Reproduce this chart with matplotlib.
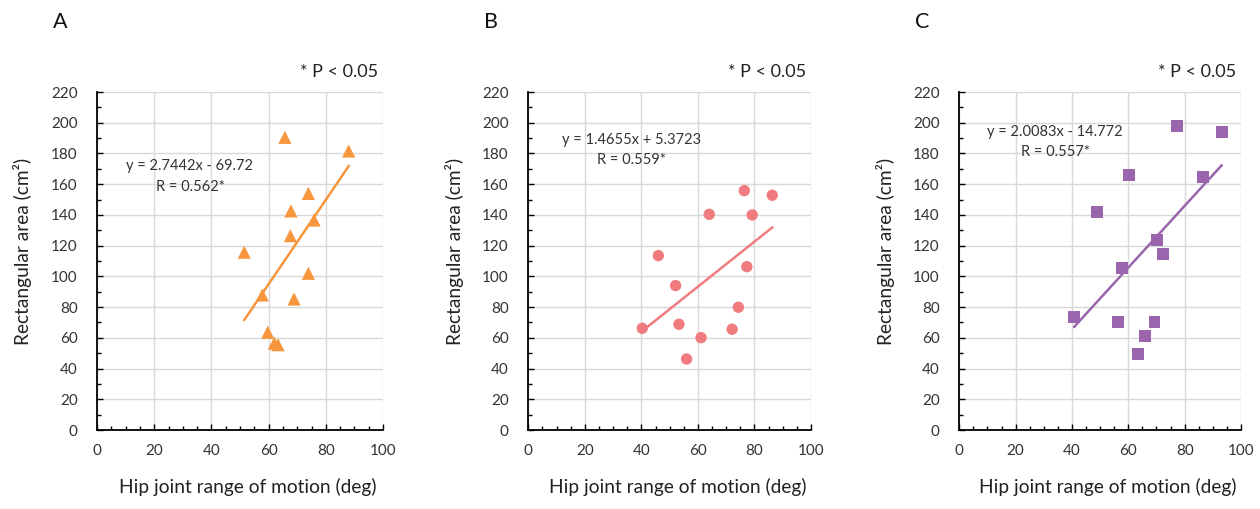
import matplotlib
matplotlib.use("Agg")
import matplotlib.pyplot as plt
import numpy as np
from matplotlib.ticker import MultipleLocator

plt.rcParams['font.family'] = ['Lato', 'DejaVu Sans']

# ---- data ----
panel_letters = ["A", "B", "C"]

a_x = [65.7, 88.0, 73.9, 67.8, 75.9, 67.6, 51.5, 73.9, 57.8, 68.9, 59.7, 62.0, 63.3]
a_y = [190.5, 181.6, 154.0, 142.6, 136.7, 126.5, 115.7, 102.0, 87.9, 85.3, 63.6, 56.5, 55.5]

b_x = [76.4, 86.3, 64.0, 79.2, 46.0, 77.3, 52.1, 74.3, 40.3, 53.3, 61.1, 72.1, 56.0]
b_y = [155.8, 152.8, 140.4, 140.0, 113.5, 106.3, 94.0, 79.9, 66.2, 68.8, 60.1, 65.6, 46.2]

c_x = [77.3, 93.1, 60.2, 86.4, 49.0, 70.2, 72.2, 57.9, 40.8, 56.2, 69.3, 66.0, 63.3]
c_y = [197.9, 193.8, 166.2, 164.5, 141.7, 123.5, 114.4, 105.3, 73.8, 70.1, 70.1, 61.4, 49.3]

slopes = [2.7442, 1.4655, 2.0083]
intercepts = [-69.72, 5.3723, -14.772]
eq_texts = ["y = 2.7442x - 69.72", "y = 1.4655x + 5.3723", "y = 2.0083x - 14.772"]
r_texts = ["R = 0.562*", "R = 0.559*", "R = 0.557*"]
sig_text = "* P < 0.05"
x_label = "Hip joint range of motion (deg)"
y_label = "Rectangular area (cm²)"

xs = [a_x, b_x, c_x]
ys = [a_y, b_y, c_y]
colors = ['#F7963C', '#F07C80', '#9A65AC']
markers = ['^', 'o', 's']
msizes = [9.5, 8.2, 8.6]
eq_pos = [(32.5, 172, 158), (36.6, 189, 176), (34.0, 194, 181)]

W, H = 1260, 509
fig = plt.figure(figsize=(W / 100, H / 100), dpi=100)

lefts = [97, 528.3, 959.3]
rights = [383, 811, 1241]
top_px, bot_px = 92, 430

for i in range(3):
    wpx = rights[i] - lefts[i]
    hpx = bot_px - top_px
    ax = fig.add_axes([lefts[i] / W, (H - bot_px) / H, wpx / W, hpx / H])
    ax.set_xlim(0, 100)
    ax.set_ylim(0, 220)
    ax.xaxis.set_major_locator(MultipleLocator(20))
    ax.yaxis.set_major_locator(MultipleLocator(20))
    ax.xaxis.set_minor_locator(MultipleLocator(5))
    ax.yaxis.set_minor_locator(MultipleLocator(10))
    ax.grid(True, which='major', color='#D9D9D9', linewidth=1.0, zorder=0)
    ax.set_axisbelow(True)
    for s in ['top', 'right']:
        ax.spines[s].set_visible(False)
    for s in ['left', 'bottom']:
        ax.spines[s].set_color('black')
        ax.spines[s].set_linewidth(1.3)
    ax.tick_params(which='both', direction='in', color='black', width=1.0)
    ax.tick_params(which='major', length=4, labelsize=11, labelcolor='#333333')
    ax.tick_params(which='minor', length=3)
    ax.tick_params(axis='x', which='major', pad=10)
    ax.tick_params(axis='y', which='major', pad=14)

    ax.scatter(xs[i], ys[i], marker=markers[i], s=msizes[i] ** 2,
               color=colors[i], edgecolors='none', zorder=3)
    x0, x1 = min(xs[i]), max(xs[i])
    lx = np.array([x0, x1])
    ax.plot(lx, slopes[i] * lx + intercepts[i], color=colors[i],
            linewidth=1.8, zorder=4)

    ex, ey1, ey2 = eq_pos[i]
    ax.text(ex, ey1, eq_texts[i], ha='center', va='center', fontsize=10.5,
            color='#333333')
    ax.text(ex, ey2, r_texts[i], ha='center', va='center', fontsize=10.5,
            color='#333333')

    ax.set_xlabel(x_label, fontsize=13.8, color='#222222', va='center')
    ax.xaxis.set_label_coords((248 - 97) / 286, (430 - 487) / hpx)
    ax.set_ylabel(y_label, fontsize=13.8, color='#222222', va='center')
    ax.yaxis.set_label_coords((23 - 97) / wpx, (430 - 251) / hpx)

    # significance and panel letter
    fig.text((rights[i] - 5) / W, 1 - 72 / H, sig_text, ha='right',
             va='center', fontsize=13, color='#222222')
    fig.text((lefts[i] - 44) / W, 1 - 22 / H, panel_letters[i], ha='left',
             va='center', fontsize=15.5, color='#111111')

fig.savefig("out.png", dpi=100)
